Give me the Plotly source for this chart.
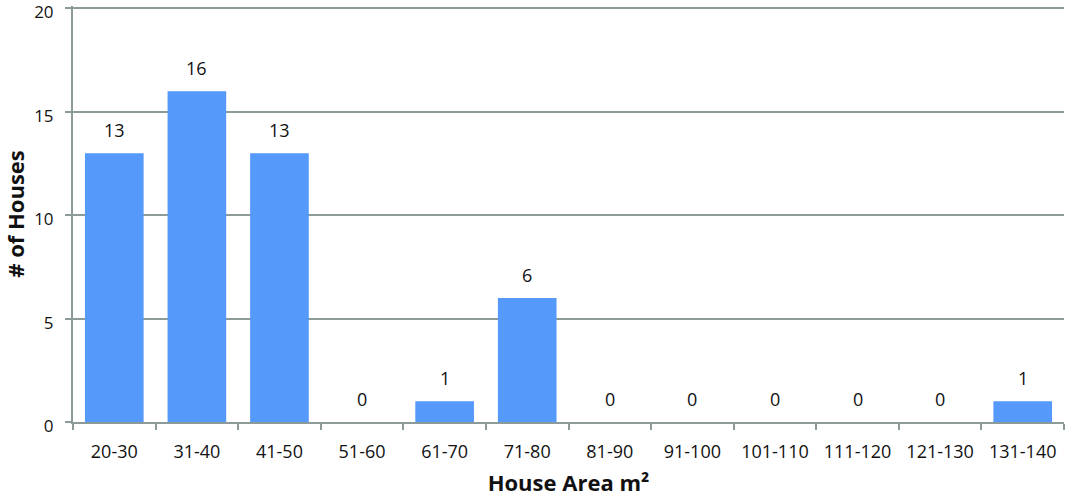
import plotly.graph_objects as go

categories = ["20-30", "31-40", "41-50", "51-60", "61-70", "71-80", "81-90",
              "91-100", "101-110", "111-120", "121-130", "131-140"]
houses = [13, 16, 13, 0, 1, 6, 0, 0, 0, 0, 0, 1]
y_ticks = [0, 5, 10, 15, 20]

FONT = "Open Sans"
GRID = "#8d9a9a"

fig = go.Figure()
fig.add_trace(go.Bar(
    x=categories, y=houses,
    marker=dict(color="#5599fb", line=dict(width=0)),
    hoverinfo="x+y",
))

for c, v in zip(categories, houses):
    fig.add_annotation(x=c, y=v, text=str(v), showarrow=False,
                       yanchor="bottom", yshift=9,
                       font=dict(family=FONT, size=18, color="#111"))

fig.update_layout(
    width=1069, height=497,
    margin=dict(l=73, r=5, t=6, b=75),
    paper_bgcolor="white", plot_bgcolor="white",
    bargap=0.29,
    showlegend=False,
    font=dict(family=FONT, color="#111"),
    xaxis=dict(
        type="category",
        tickson="boundaries",
        ticks="outside", ticklen=6, tickwidth=2, tickcolor=GRID,
        showline=True, linecolor=GRID, linewidth=2,
        showgrid=False,
        automargin=False,
        ticklabelstandoff=12,
        tickfont=dict(family=FONT, size=18, color="#111"),
        title=dict(text="<b>House Area m²</b>", font=dict(family=FONT, size=22, color="#111"),
                   standoff=19),
    ),
    yaxis=dict(
        range=[0, 20.12],
        tickvals=y_ticks,
        ticks="outside", ticklen=6, tickwidth=2, tickcolor=GRID,
        showline=True, linecolor=GRID, linewidth=2,
        showgrid=True, gridcolor=GRID, gridwidth=2,
        zeroline=False,
        automargin=False,
        ticklabeloverflow="allow",
        ticklabelstandoff=8,
        ticklabelshift=4,
        tickfont=dict(family=FONT, size=17, color="#111"),
        title=dict(text="<b># of Houses</b>", font=dict(family=FONT, size=22, color="#111"),
                   standoff=14),
    ),
)

fig.write_html("out.html", config={"displayModeBar": False},
               post_script="document.body.style.margin='0';")
